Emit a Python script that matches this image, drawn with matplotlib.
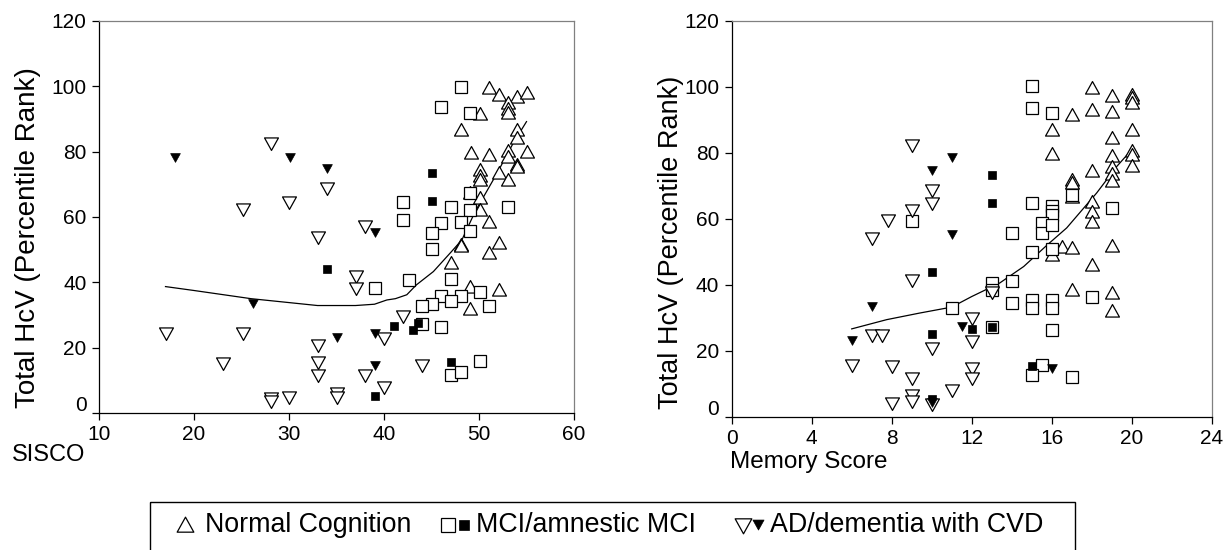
import matplotlib
matplotlib.use("Agg")
import matplotlib.pyplot as plt
from matplotlib.path import Path
from matplotlib.patches import Rectangle
from matplotlib.transforms import ScaledTranslation

plt.rcParams['font.family'] = ['Liberation Sans', 'DejaVu Sans']

# ---- left panel: SISCO ----
sisco_normal_x = [51.1, 52.1, 54.0, 55.0, 53.05, 53.05, 53.05, 50.1, 48.15, 54.0, 54.0, 49.2,
                  51.1, 53.05, 53.05, 55.0, 54.0, 54.0, 50.1, 50.1, 50.1, 52.1, 53.05, 49.1,
                  50.1, 50.1, 51.1, 48.15, 48.15, 52.1, 51.1, 47.0, 49.1, 52.1, 49.1]
sisco_normal_y = [99.4, 97.3, 96.8, 97.9, 94.8, 93.0, 91.9, 91.4, 86.6, 86.6, 84.1, 79.7,
                  79.0, 80.3, 78.5, 80.0, 75.9, 75.2, 74.4, 72.4, 71.3, 73.4, 71.3, 67.3,
                  65.7, 62.2, 58.6, 51.5, 51.0, 52.0, 48.9, 45.9, 38.7, 37.7, 31.9]

sisco_mci_x = [48.15, 46.05, 49.1, 42.0, 42.0, 49.1, 47.0, 53.05, 49.1, 46.05, 48.15, 45.0,
               49.1, 45.0, 39.0, 42.6, 47.0, 50.1, 46.05, 48.15, 47.0, 45.0, 44.0, 51.1,
               44.0, 46.05, 50.1, 47.0, 48.15]
sisco_mci_y = [99.9, 93.8, 91.9, 64.7, 59.1, 67.5, 63.2, 63.2, 62.2, 58.1, 58.6, 55.2,
               55.8, 50.2, 38.2, 40.8, 41.1, 36.9, 35.7, 35.7, 34.4, 33.4, 32.9, 32.9,
               27.2, 26.3, 15.8, 11.7, 12.4]
sisco_amci_x = [45.0, 45.0, 34.0, 41.0, 43.0, 43.6, 47.0, 39.0]
sisco_amci_y = [73.4, 65.0, 44.0, 26.7, 25.3, 27.7, 15.5, 5.3]

sisco_ad_x = [28.1, 34.0, 30.0, 25.2, 38.0, 33.05, 37.0, 37.0, 17.05, 25.2, 23.1, 33.05,
              33.05, 33.05, 40.0, 42.0, 44.05, 38.0, 40.0, 28.15, 28.15, 30.0, 35.05, 35.05]
sisco_ad_y = [82.6, 68.8, 64.7, 62.5, 57.1, 54.0, 41.8, 38.2, 24.6, 24.6, 15.3, 20.7,
              15.6, 11.7, 23.1, 29.8, 14.6, 11.7, 7.9, 4.6, 3.8, 4.8, 6.1, 4.8]
sisco_cvd_x = [18.0, 30.1, 34.0, 39.0, 26.2, 35.05, 39.0, 39.0]
sisco_cvd_y = [78.5, 78.5, 74.9, 55.5, 33.6, 23.4, 24.6, 14.8]

sisco_fit_x = [17, 20, 26, 30, 33, 37, 39, 40.3, 41.2, 42.4, 43.4, 45.2, 47.1, 48.2, 49.6,
               51.9, 53.6, 55]
sisco_fit_y = [38.7, 37.5, 35.0, 33.8, 32.9, 32.9, 33.3, 34.6, 35.0, 36.2, 39.2, 43.3,
               49.4, 53.0, 61.7, 73.4, 82.6, 89.2]

# ---- right panel: memory score ----
mem_normal_x = [18, 18, 19, 19, 20, 20, 20, 17, 16, 19, 20, 16, 19, 19, 19, 19, 20, 20, 20,
                18, 17, 17, 17, 18, 18, 18, 16, 16.5, 17, 19, 18, 17, 19, 19]
mem_normal_y = [99.7, 93.1, 97.4, 92.3, 97.7, 96.7, 95.2, 91.6, 87.1, 84.5, 87.1, 79.7,
                79.0, 75.8, 73.7, 71.4, 80.5, 79.5, 76.2, 74.4, 71.9, 70.9, 66.8, 65.3,
                62.0, 59.0, 49.2, 51.5, 51.2, 51.7, 46.2, 38.6, 37.6, 32.2]

mem_mci_x = [15, 15, 16, 17, 15, 16, 16, 16, 19, 14, 15.5, 15.5, 16, 15, 16, 9, 11, 13, 13,
             13, 14, 14, 15, 15, 16, 16, 16, 18, 15.5, 15, 17]
mem_mci_y = [100.2, 93.6, 92.1, 67.4, 64.8, 63.8, 62.3, 61.3, 63.3, 55.9, 58.8, 55.8, 58.3,
             49.9, 50.9, 59.3, 33.0, 40.6, 38.6, 27.3, 41.1, 34.5, 35.5, 33.0, 35.5, 33.0,
             26.5, 36.5, 15.8, 12.6, 12.0]
mem_amci_x = [13, 13, 10, 10, 12, 13, 15, 10]
mem_amci_y = [73.4, 65.0, 43.9, 25.2, 26.7, 27.3, 15.5, 5.5]

mem_ad_x = [9, 10, 10, 7.8, 9, 7, 9, 7, 7.5, 10, 6, 8, 9, 11, 9, 9, 8, 10, 12, 12, 12, 12, 13]
mem_ad_y = [82.5, 68.9, 65.0, 59.8, 62.6, 54.2, 41.6, 24.9, 24.9, 20.9, 15.8, 15.6, 11.8,
            8.1, 6.8, 4.7, 4.2, 4.0, 30.0, 22.9, 14.8, 11.8, 37.9]
mem_cvd_x = [11, 10, 11, 7, 6, 11.5, 16, 10]
mem_cvd_y = [78.8, 74.9, 55.5, 33.7, 23.4, 27.7, 14.8, 4.4]

mem_fit_x = [6, 7.75, 9.4, 11, 12, 13.4, 14.6, 15.75, 16.75, 18.25, 19.25, 20]
mem_fit_y = [26.7, 29.5, 31.5, 33.3, 36.5, 40.6, 45.6, 52.0, 57.3, 67.9, 75.9, 81.0]

legend_labels = ['Normal Cognition', 'MCI/amnestic MCI', 'AD/dementia with CVD']

TRI_UP = Path([(-1, -0.8), (1, -0.8), (0, 1), (-1, -0.8)], closed=True)
TRI_DN = Path([(-1, 0.8), (1, 0.8), (0, -1), (-1, 0.8)], closed=True)
open_up = dict(marker=TRI_UP, ms=10, mfc='white', mec='black', mew=0.9, ls='none')
open_dn = dict(marker=TRI_DN, ms=10, mfc='white', mec='black', mew=0.9, ls='none')
fill_dn = dict(marker=TRI_DN, ms=7, mfc='black', mec='black', mew=0.5, ls='none')
open_sq = dict(marker='s', ms=8, mfc='white', mec='black', mew=0.9, ls='none')
fill_sq = dict(marker='s', ms=5.8, mfc='black', mec='black', mew=0.5, ls='none')


def style_axes(ax, xlim, xticks):
    ax.set_xlim(*xlim)
    ax.set_ylim(0, 120)
    ax.set_xticks(xticks)
    ax.set_yticks(range(0, 121, 20))
    ax.tick_params(direction='out', length=5, width=0.9, labelsize=15, colors='black', pad=4)
    for s in ('left', 'bottom'):
        ax.spines[s].set_color('black')
        ax.spines[s].set_linewidth(0.9)
    for s in ('top', 'right'):
        ax.spines[s].set_color('#808080')
        ax.spines[s].set_linewidth(0.9)
    # Excel-style: the "0" label sits a bit above its tick
    lab = ax.yaxis.get_major_ticks()[0].label1
    lab.set_transform(lab.get_transform() + ScaledTranslation(0, 7 / 72, ax.figure.dpi_scale_trans))


fig = plt.figure(figsize=(12.26, 5.5), dpi=100)
ax1 = fig.add_axes([99 / 1226, 1 - 413 / 550, 475 / 1226, 392 / 550])
ax2 = fig.add_axes([731.7 / 1226, 1 - 417 / 550, 480 / 1226, 396 / 550])

ax1.plot(sisco_fit_x, sisco_fit_y, color='black', lw=0.9)
ax1.plot(sisco_normal_x, sisco_normal_y, **open_up)
ax1.plot(sisco_mci_x, sisco_mci_y, **open_sq)
ax1.plot(sisco_amci_x, sisco_amci_y, **fill_sq)
ax1.plot(sisco_ad_x, sisco_ad_y, **open_dn)
ax1.plot(sisco_cvd_x, sisco_cvd_y, **fill_dn)
style_axes(ax1, (10, 60), range(10, 61, 10))

ax2.plot(mem_fit_x, mem_fit_y, color='black', lw=0.9)
ax2.plot(mem_normal_x, mem_normal_y, **open_up)
ax2.plot(mem_mci_x, mem_mci_y, **open_sq)
ax2.plot(mem_amci_x, mem_amci_y, **fill_sq)
ax2.plot(mem_ad_x, mem_ad_y, **open_dn)
ax2.plot(mem_cvd_x, mem_cvd_y, **fill_dn)
style_axes(ax2, (0, 24), range(0, 25, 4))

# axis titles
fig.text(28 / 1226, 1 - 238 / 550, 'Total HcV (Percentile Rank)', rotation=90,
         ha='center', va='center', fontsize=20)
fig.text(671 / 1226, 1 - 242 / 550, 'Total HcV (Percentile Rank)', rotation=90,
         ha='center', va='center', fontsize=19.5)
fig.text(12 / 1226, 1 - 455 / 550, 'SISCO', ha='left', va='center', fontsize=17)
fig.text(730 / 1226, 1 - 462 / 550, 'Memory Score', ha='left', va='center', fontsize=17.5)

# legend box (open at the bottom edge of the picture), drawn in pixel coords
lg = fig.add_axes([0, 0, 1, 1], zorder=5)
lg.set_xlim(0, 1226)
lg.set_ylim(550, 0)
lg.axis('off')
lg.add_patch(Rectangle((150, 502), 925, 60, fill=False, edgecolor='black', lw=1.0))
ly = 525
lg.plot([185], [ly], **{**open_up, 'ms': 12})
lg.plot([448], [ly], **{**open_sq, 'ms': 9.5})
lg.plot([464], [ly], **{**fill_sq, 'ms': 7})
lg.plot([743], [ly], **{**open_dn, 'ms': 12})
lg.plot([758], [ly - 1], **{**fill_dn, 'ms': 8})
for x0, lab in zip([205, 476, 770], legend_labels):
    lg.text(x0, ly, lab, ha='left', va='center', fontsize=19.3)

fig.savefig('out.png', dpi=100)
